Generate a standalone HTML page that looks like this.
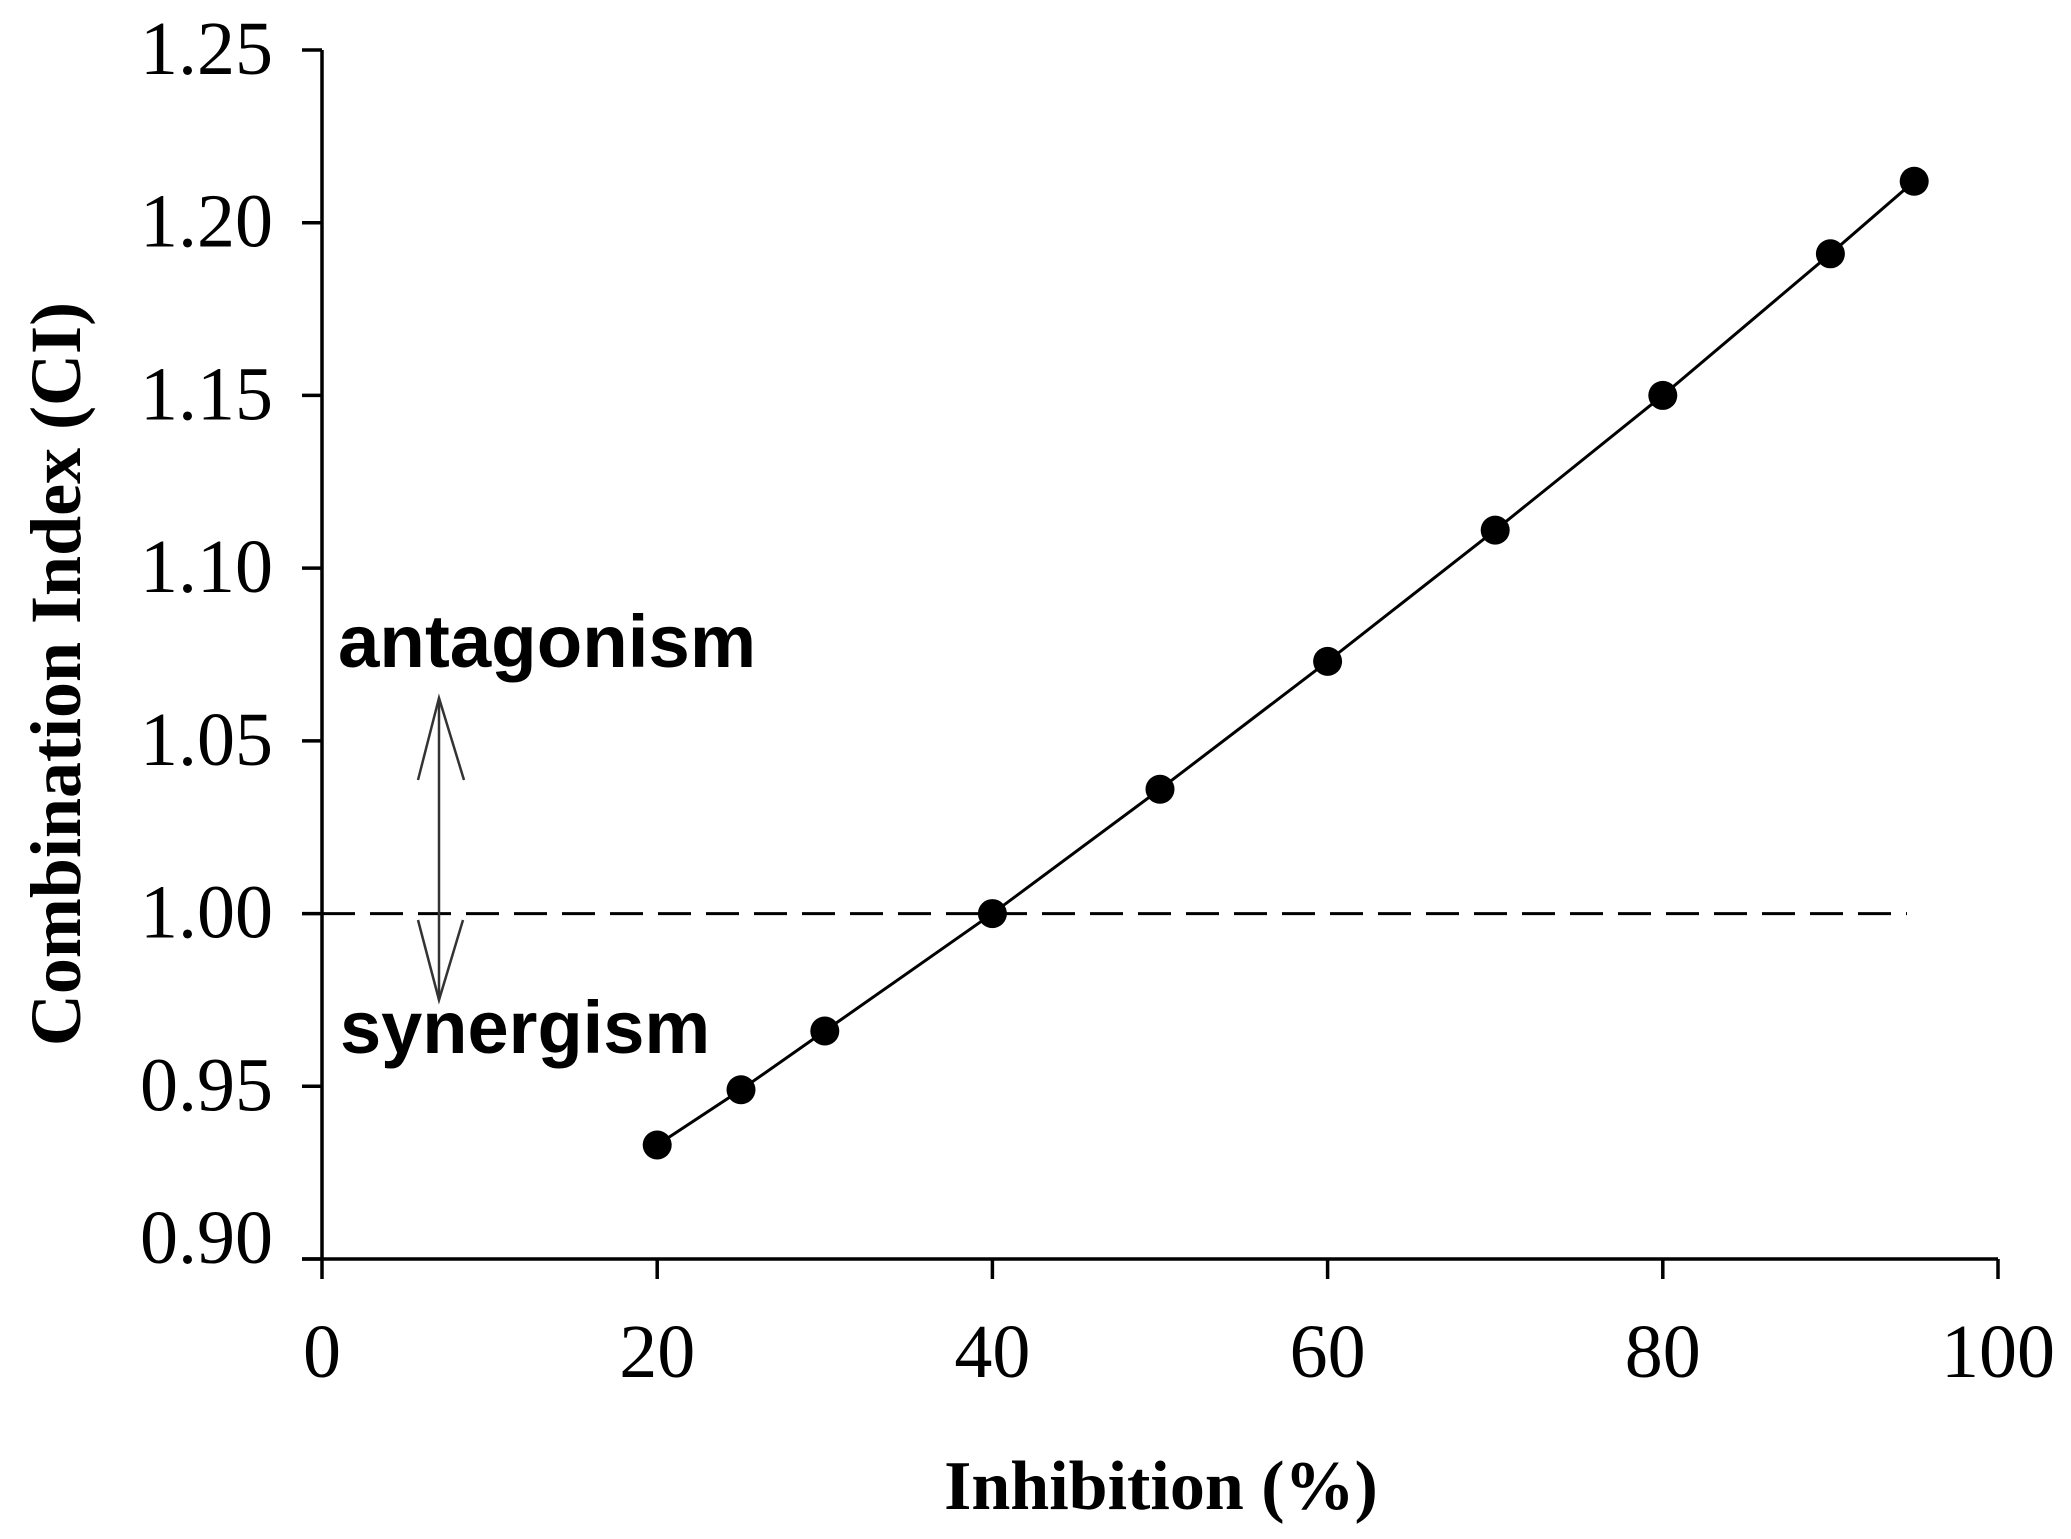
<!DOCTYPE html>
<html><head><meta charset="utf-8"><style>
html,body{margin:0;padding:0;background:#fff;}
svg{display:block;}
</style></head><body>
<svg id="chart" width="2071" height="1539" viewBox="0 0 2071 1539" xmlns="http://www.w3.org/2000/svg">
<rect width="2071" height="1539" fill="#fff"/>
<g id="axes"></g>
<g id="marks"></g>
<text transform="translate(80,674) rotate(-90)" text-anchor="middle" font-family="Liberation Serif, serif" font-weight="bold" font-size="72">Combination Index (CI)</text>
<text x="1161" y="1509" text-anchor="middle" font-family="Liberation Serif, serif" font-weight="bold" font-size="70">Inhibition (%)</text>
<text x="338" y="667" font-family="Liberation Sans, sans-serif" font-weight="bold" font-size="74.5">antagonism</text>
<text x="340" y="1053" font-family="Liberation Sans, sans-serif" font-weight="bold" font-size="74">synergism</text>
<g stroke="#333" stroke-width="2.5" fill="none">
<line x1="439" y1="698" x2="439" y2="1000"/>
<polyline points="418,780 439,698 464,780"/>
<polyline points="418,920 439,1000 463,920"/>
</g>
</svg>
<script>
const xTicks = [0,20,40,60,80,100];
const yTicks = [0.90,0.95,1.00,1.05,1.10,1.15,1.20,1.25];
const yTickLabels = ["0.90","0.95","1.00","1.05","1.10","1.15","1.20","1.25"];
const inhibition = [20,25,30,40,50,60,70,80,90,95];
const ciValues = [0.933,0.949,0.966,1.000,1.036,1.073,1.111,1.150,1.191,1.212];
const refLineValue = 1.00;

const X0=322, X1=1998, Y0=1259, Y1=50;
function xs(v){return X0+(v-0)/(100-0)*(X1-X0);}
function ys(v){return Y0-(v-0.90)/(1.25-0.90)*(Y0-Y1);}
const NS="http://www.w3.org/2000/svg";
function mk(tag,attrs,parent,txt){const e=document.createElementNS(NS,tag);for(const k in attrs)e.setAttribute(k,attrs[k]);if(txt!==undefined)e.textContent=txt;parent.appendChild(e);return e;}
const axes=document.getElementById('axes');
const marks=document.getElementById('marks');

let yl=mk('line',{x1:X0,y1:Y1,x2:X0,y2:Y0,stroke:'#000','stroke-width':3.5},axes);


let xl=mk('line',{x1:X0-20,y1:Y0,x2:X1,y2:Y0,stroke:'#000','stroke-width':3.5},axes);



yTicks.forEach((v,i)=>{
  const y=ys(v);
  const t=mk('line',{x1:X0-20,y1:y,x2:X0,y2:y,stroke:'#000','stroke-width':3.5},axes);
  
  
  const l=mk('text',{x:273,y:Math.min(y+24,1263),'text-anchor':'end','font-family':'Liberation Serif, serif','font-size':76},axes,yTickLabels[i]);
  
  
});
xTicks.forEach(v=>{
  const x=xs(v);
  const t=mk('line',{x1:x,y1:Y0,x2:x,y2:Y0+20,stroke:'#000','stroke-width':3.5},axes);
  
  
  const l=mk('text',{x:x,y:1377,'text-anchor':'middle','font-family':'Liberation Serif, serif','font-size':76},axes,String(v));
  
  
});

const ref=mk('line',{x1:X0,y1:ys(refLineValue),x2:1907,y2:ys(refLineValue),stroke:'#000','stroke-width':3,'stroke-dasharray':'33 15'},marks);



const pts=inhibition.map((v,i)=>xs(v)+','+ys(ciValues[i])).join(' ');
const pl=mk('polyline',{points:pts,fill:'none',stroke:'#000','stroke-width':3},marks);


inhibition.forEach((v,i)=>{
  const c=mk('circle',{cx:xs(v),cy:ys(ciValues[i]),r:14.5,fill:'#000'},marks);
  
  
});
</script>
</body></html>
